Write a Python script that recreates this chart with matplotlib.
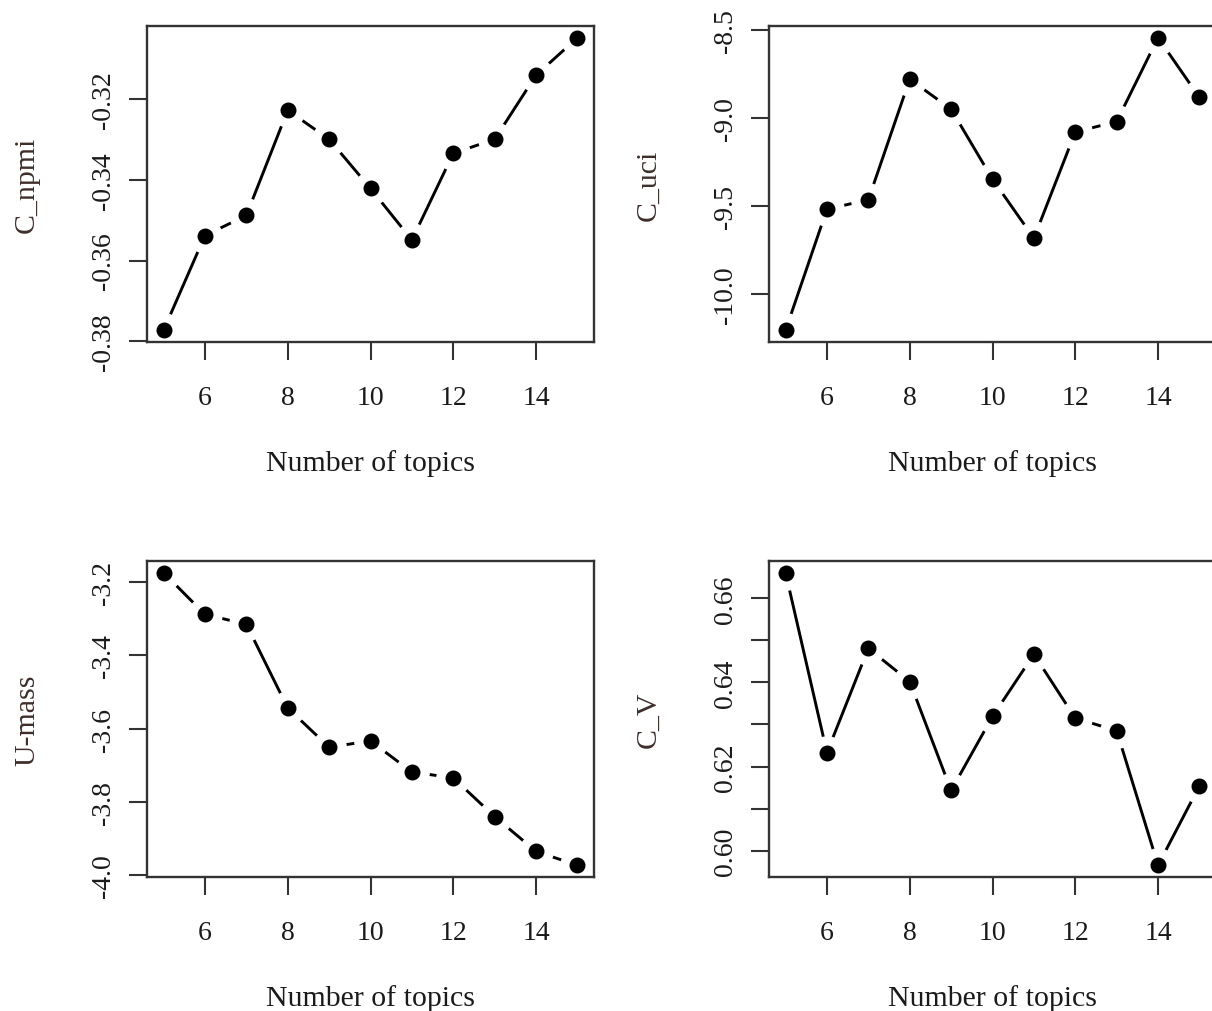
import numpy as np
import matplotlib
matplotlib.use("Agg")
import matplotlib.pyplot as plt
from matplotlib.ticker import FixedLocator

plt.rcParams['font.family'] = ['Liberation Serif', 'DejaVu Serif']

# data
topics = [5, 6, 7, 8, 9, 10, 11, 12, 13, 14, 15]
c_npmi = [-0.3773, -0.3538, -0.3488, -0.3227, -0.3299, -0.3421, -0.3549, -0.3334, -0.3299, -0.3140, -0.3047]
c_uci = [-10.208, -9.519, -9.465, -8.779, -8.950, -9.348, -9.684, -9.080, -9.020, -8.543, -8.883]
u_mass = [-3.174, -3.288, -3.315, -3.544, -3.651, -3.634, -3.719, -3.735, -3.841, -3.936, -3.974]
c_v = [0.6661, 0.6233, 0.6481, 0.6402, 0.6143, 0.6319, 0.6467, 0.6315, 0.6285, 0.5965, 0.6154]

x_ticks = [6, 8, 10, 12, 14]
npmi_ticks = [-0.38, -0.36, -0.34, -0.32]
npmi_labels = ["-0.38", "-0.36", "-0.34", "-0.32"]
uci_ticks = [-10.0, -9.5, -9.0, -8.5]
uci_labels = ["-10.0", "-9.5", "-9.0", "-8.5"]
umass_ticks = [-4.0, -3.8, -3.6, -3.4, -3.2]
umass_labels = ["-4.0", "-3.8", "-3.6", "-3.4", "-3.2"]
cv_ticks = [0.60, 0.61, 0.62, 0.63, 0.64, 0.65, 0.66]
cv_labels = ["0.60", "", "0.62", "", "0.64", "", "0.66"]

W, H = 1212, 1012
fig = plt.figure(figsize=(W / 100, H / 100), dpi=100)
fig.patch.set_facecolor("white")

TXT = "#1a1a1a"
YLAB = "#3d2e2a"


def px_axes(x0, y0, x1, y1):
    return fig.add_axes([x0 / W, 1 - y1 / H, (x1 - x0) / W, (y1 - y0) / H])


def r_panel(ax, y, ylabel, yticks, ylabels):
    # R type="b" look: line with gaps around the points
    ax.plot(topics, y, color="black", lw=2.1, zorder=1, solid_capstyle="butt")
    ax.plot(topics, y, "o", ms=25, color="white", mew=0, zorder=1.5)
    ax.plot(topics, y, "o", ms=11.5, color="black", mew=0, zorder=1.6)

    lo, hi = min(y), max(y)
    pad = (hi - lo) * 0.04
    ax.set_ylim(lo - pad, hi + pad)
    ax.set_xlim(4.6, 15.4)

    ax.xaxis.set_major_locator(FixedLocator(x_ticks))
    ax.set_xticklabels([str(t) for t in x_ticks])
    ax.yaxis.set_major_locator(FixedLocator(yticks))
    ax.set_yticklabels(ylabels, rotation=90, va="center")

    for s in ax.spines.values():
        s.set_linewidth(1.7)
        s.set_color("#333333")
        s.set_zorder(2.5)
    ax.tick_params(axis="both", direction="out", length=13, width=1.5,
                   color="#333333", labelsize=20, labelcolor=TXT)
    ax.tick_params(axis="x", pad=18)
    ax.tick_params(axis="y", pad=9)
    ax.set_xlabel("Number of topics", fontsize=21.5, color=TXT, labelpad=28)
    ax.set_ylabel(ylabel, fontsize=21.5, color=YLAB, labelpad=37)


ax1 = px_axes(147, 27, 594, 343)
r_panel(ax1, c_npmi, "C_npmi", npmi_ticks, npmi_labels)

ax2 = px_axes(769, 27, 1216, 343)
r_panel(ax2, c_uci, "C_uci", uci_ticks, uci_labels)

ax3 = px_axes(147, 562, 594, 878)
r_panel(ax3, u_mass, "U-mass", umass_ticks, umass_labels)

ax4 = px_axes(769, 562, 1216, 878)
r_panel(ax4, c_v, "C_V", cv_ticks, cv_labels)

fig.savefig("out.png", dpi=100, facecolor="white")
